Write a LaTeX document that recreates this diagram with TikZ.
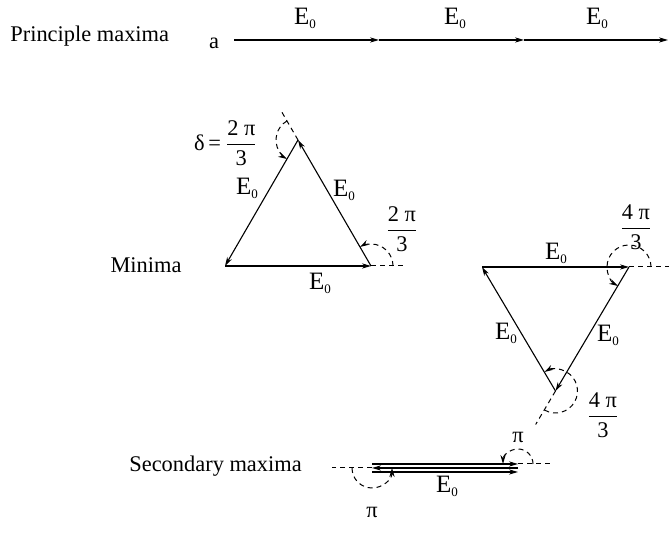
\documentclass[tikz,border=0pt]{standalone}
\usepackage{amsmath}
\usepackage{fontspec}
\setmainfont{Liberation Serif}
\usepackage{tikz}
\usetikzlibrary{arrows.meta,calc}

\newcommand{\Ez}{{\fontsize{12.5}{14}\selectfont E}\raisebox{-2pt}{\fontsize{6.5}{7}\selectfont 0}}
\newcommand{\phase}[2]{$\dfrac{\mbox{#1}}{\mbox{#2}}$}

\begin{document}
\begin{tikzpicture}[
  x=0.5pt, y=0.5pt,
  every node/.style={font=\fontsize{11.2}{13}\selectfont, inner sep=0pt},
  phasor/.style={-{Stealth[length=4.5pt, width=2.6pt]}, line width=0.55pt},
  ext/.style={dash pattern=on 2.5pt off 2pt, line width=0.5pt},
  turn/.style={ext, -{Stealth[length=4.5pt, width=2.6pt]}}
]
\useasboundingbox (0,0) rectangle (669,533);

% principle maxima
\node[anchor=base west] (pmax) at (10,491) {Principle maxima};
\node[anchor=base] (a) at (214,484) {a};
\coordinate (p0) at (234,493);
\coordinate (p1) at (379,493);
\coordinate (p2) at (524,493);
\coordinate (p3) at (668,493);
\draw[phasor] (p0) -- (p1);
\draw[phasor] (p1) -- (p2);
\draw[phasor] (p2) -- (p3);
\node (pe1) at (305,515) {\Ez};
\node (pe2) at (455,515) {\Ez};
\node (pe3) at (597,515) {\Ez};

% minima, delta = 2pi/3
\node[anchor=base] (minima) at (146,260) {Minima};
\coordinate (A1) at (225,267);
\coordinate (B1) at (371,267);
\coordinate (C1) at (298,393);
\coordinate (B1x) at (406,267);
\coordinate (C1x) at ($(B1)!1.22!(C1)$);
\draw[phasor] (A1) -- (B1);
\draw[phasor] (B1) -- (C1);
\draw[phasor] (C1) -- (A1);
\draw[ext] (B1) -- (B1x);
\draw[ext] (C1) -- (C1x);
\draw[turn] ($(B1)+(0:22)$) arc[start angle=0, end angle=120, radius=22];
\draw[turn] ($(C1)+(120:22)$) arc[start angle=120, end angle=240, radius=22];
\node (d1) at (226,390) {δ\,=\,\phase{2 π}{3}};
\node (d2) at (402,304) {\phase{2 π}{3}};
\node (e1l) at (247,345) {\Ez};
\node (e1r) at (344,343) {\Ez};
\node (e1b) at (320,250) {\Ez};

% minima, delta = 4pi/3
\coordinate (P2) at (482,266);
\coordinate (Q2) at (629,266);
\coordinate (R2) at (555.5,142);
\coordinate (Q2x) at (669,266);
\coordinate (R2x) at ($(Q2)!1.27!(R2)$);
\draw[phasor] (P2) -- (Q2);
\draw[phasor] (Q2) -- (R2);
\draw[phasor] (R2) -- (P2);
\draw[ext] (Q2) -- (Q2x);
\draw[ext] (R2) -- (R2x);
\draw[turn] ($(Q2)+(0:22)$) arc[start angle=0, end angle=240, radius=22];
\draw[turn] ($(R2)+(240:22)$) arc[start angle=240, end angle=480, radius=22];
\node (f1) at (636,306) {\phase{4 π}{3}};
\node (f2) at (603,118) {\phase{4 π}{3}};
\node (e2t) at (556,280) {\Ez};
\node (e2l) at (506,200) {\Ez};
\node (e2r) at (608,198) {\Ez};

% secondary maxima
\node[anchor=base west] (smax) at (129,61) {Secondary maxima};
\coordinate (t0) at (372,69);
\coordinate (t1) at (518,69);
\coordinate (m1) at (518,65);
\coordinate (m0) at (372,65);
\coordinate (b0) at (372,61);
\coordinate (b1) at (518,61);
\coordinate (t1x) at (552,69);
\coordinate (m0x) at (332,65);
\draw[phasor] (t0) -- (t1);
\draw[phasor] (m1) -- (m0);
\draw[phasor] (b0) -- (b1);
\draw[ext] (t1) -- (t1x);
\draw[ext] (m0) -- (m0x);
\draw[turn] ($(t1)+(0:15)$) arc[start angle=0, end angle=180, radius=15];
\draw[turn] ($(m0)+(180:20)$) arc[start angle=180, end angle=360, radius=20];
\node (pi1) at (518,96) {π};
\node (pi2) at (372,21) {π};
\node (es) at (447,47) {\Ez};
\end{tikzpicture}
\end{document}
